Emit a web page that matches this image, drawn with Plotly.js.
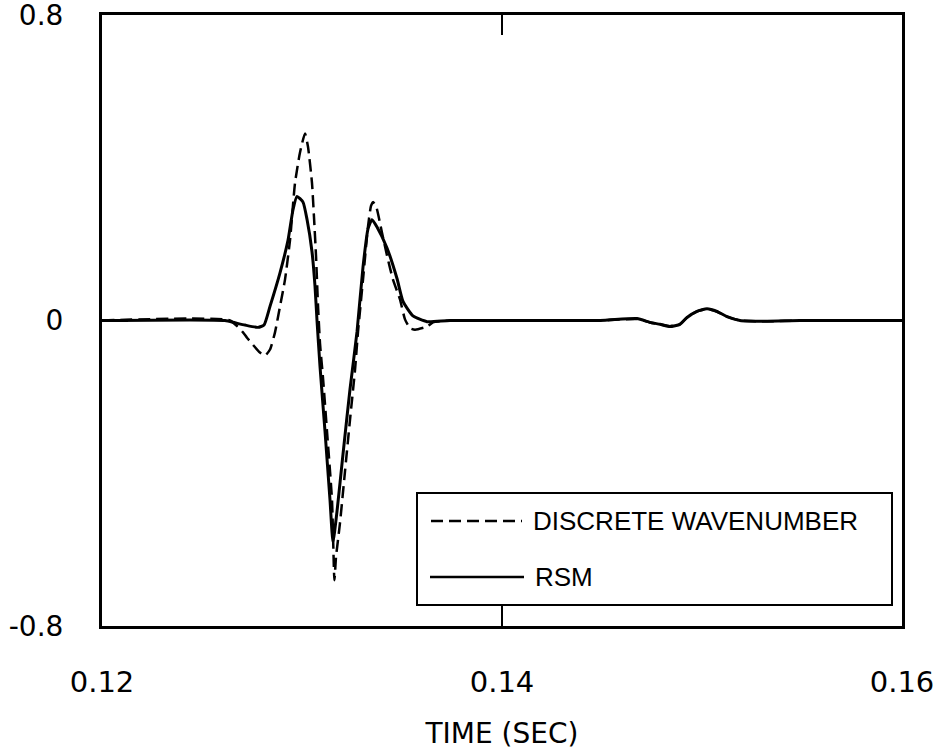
<!DOCTYPE html>
<html>
<head>
<meta charset="utf-8">
<script src="https://cdn.plot.ly/plotly-3.0.1.min.js"></script>
<style>
  html, body { margin: 0; padding: 0; background: #ffffff; }
  #chart { width: 944px; height: 754px; }
</style>
</head>
<body>
<div id="chart"></div>
<script>
// ---- Data ----
const rsmTime = [0.12, 0.12615, 0.12665, 0.12715, 0.1278, 0.1281, 0.1284, 0.1289, 0.1293, 0.12955,
  0.12975, 0.13005, 0.13025, 0.1305, 0.13065, 0.13075, 0.1309, 0.13115, 0.1314, 0.13155,
  0.13175, 0.13205, 0.1324, 0.13275, 0.13305, 0.1333, 0.1335, 0.13375, 0.13425, 0.13475,
  0.13505, 0.13555, 0.13625, 0.1374, 0.1449, 0.14675, 0.1474, 0.1479, 0.1484, 0.1489,
  0.14925, 0.14975, 0.15025, 0.15075, 0.15125, 0.1519, 0.15325, 0.1549, 0.16];
const rsmValue = [0, 0, -0.006, -0.012, -0.018, -0.012, 0.037, 0.125, 0.21, 0.29,
  0.325, 0.31, 0.265, 0.18, 0.09, 0.0, -0.12, -0.29, -0.47, -0.58,
  -0.5, -0.35, -0.18, -0.03, 0.14, 0.24, 0.264, 0.245, 0.19, 0.11,
  0.05, 0.012, -0.003, 0, 0, 0.005, -0.005, -0.01, -0.016, -0.01,
  0.008, 0.024, 0.031, 0.024, 0.01, 0, -0.002, 0, 0];

const dwTime = [0.12, 0.1264, 0.12705, 0.12725, 0.1279, 0.12815, 0.1284, 0.12865, 0.1289, 0.12915,
  0.1294, 0.12965, 0.1299, 0.13015, 0.1303, 0.1305, 0.1306, 0.1307, 0.1308, 0.1309,
  0.13105, 0.13125, 0.1315, 0.13162, 0.1317, 0.1319, 0.13215, 0.1324, 0.13265, 0.1328,
  0.13305, 0.1333, 0.13345, 0.13355, 0.1337, 0.134, 0.13425, 0.13455, 0.1349, 0.13515,
  0.1354, 0.13565, 0.13625, 0.13655, 0.1374, 0.1449, 0.14675, 0.1474, 0.1479, 0.1484,
  0.1489, 0.14925, 0.14975, 0.15025, 0.15075, 0.15125, 0.1519, 0.15325, 0.1549, 0.16];
const dwValue = [0, 0, -0.031, -0.045, -0.084, -0.092, -0.076, -0.031, 0.037, 0.107,
  0.21, 0.36, 0.44, 0.49, 0.455, 0.36, 0.27, 0.17, 0.04, -0.06,
  -0.15, -0.29, -0.47, -0.68, -0.62, -0.53, -0.395, -0.26, -0.13, -0.03,
  0.107, 0.246, 0.3, 0.31, 0.3, 0.23, 0.17, 0.107, 0.055, 0.003,
  -0.02, -0.024, -0.016, -0.005, 0, 0, 0.004, -0.005, -0.01, -0.015,
  -0.009, 0.008, 0.024, 0.03, 0.023, 0.01, 0, -0.002, 0, 0];

const seriesNames = ['DISCRETE WAVENUMBER', 'RSM'];
const xTickVals = [0.12, 0.14, 0.16];
const xTickText = ['0.12', '0.14', '0.16'];
const yTickVals = [-0.8, 0, 0.8];
const yTickText = ['-0.8', '0', '0.8'];
const xTitle = 'TIME (SEC)';

// ---- Plot ----
const FONT = 'Liberation Sans, Arial, Helvetica, sans-serif';
const AXFONT = 'DejaVu Sans, Liberation Sans, Arial, sans-serif';

const traces = [
  {
    x: dwTime, y: dwValue, name: seriesNames[0], type: 'scatter', mode: 'lines',
    line: { color: '#000000', width: 2.5, dash: '12px,6px', shape: 'spline', smoothing: 0.5 },
    showlegend: false, hoverinfo: 'skip'
  },
  {
    x: rsmTime, y: rsmValue, name: seriesNames[1], type: 'scatter', mode: 'lines',
    line: { color: '#000000', width: 3, shape: 'spline', smoothing: 0.5 },
    showlegend: false, hoverinfo: 'skip'
  }
];

// legend drawn in paper coordinates (box + sample lines + labels)
const lgBox = { x0: 0.39375, x1: 0.9875, y0: 0.0344, y1: 0.2177 };
const lgRows = [
  { y: 0.1719, x0: 0.41125, x1: 0.525, tx: 0.536, dash: '12px,6px', w: 2.5 },
  { y: 0.0802, x0: 0.41, x1: 0.5275, tx: 0.539, dash: 'solid', w: 2.5 }
];

const shapes = [
  { type: 'rect', xref: 'paper', yref: 'paper', x0: lgBox.x0, x1: lgBox.x1, y0: lgBox.y0, y1: lgBox.y1,
    line: { color: '#000000', width: 2 }, fillcolor: '#ffffff', layer: 'above' }
];
const annotations = [];
lgRows.forEach((r, i) => {
  shapes.push({ type: 'line', xref: 'paper', yref: 'paper', x0: r.x0, x1: r.x1, y0: r.y, y1: r.y,
    line: { color: '#000000', width: r.w, dash: r.dash }, layer: 'above' });
  annotations.push({ xref: 'paper', yref: 'paper', x: r.tx, y: r.y, xanchor: 'left', yanchor: 'middle',
    text: seriesNames[i], showarrow: false, font: { family: FONT, size: 26, color: '#000000' } });
});

const layout = {
  width: 944, height: 754,
  margin: { l: 102, r: 42, t: 15, b: 128 },
  paper_bgcolor: '#ffffff', plot_bgcolor: '#ffffff',
  showlegend: false,
  font: { family: AXFONT, color: '#000000', size: 29 },
  xaxis: {
    range: [0.12, 0.16], tickmode: 'array', tickvals: xTickVals, ticktext: xTickText,
    showgrid: false, zeroline: false,
    showline: true, mirror: 'ticks', linecolor: '#000000', linewidth: 3,
    ticks: 'inside', ticklen: 20, tickwidth: 2, tickcolor: '#000000',
    ticklabelstandoff: 28, ticklabeloverflow: 'allow',
    tickfont: { family: AXFONT, size: 29, color: '#000000' },
    title: { text: xTitle, font: { family: AXFONT, size: 28, color: '#000000' }, standoff: 26 }
  },
  yaxis: {
    range: [-0.8, 0.8], tickmode: 'array', tickvals: yTickVals, ticktext: yTickText,
    showgrid: false, zeroline: false,
    showline: true, mirror: 'ticks', linecolor: '#000000', linewidth: 3,
    ticks: 'inside', ticklen: 26, tickwidth: 2, tickcolor: '#000000',
    ticklabelstandoff: 30, ticklabeloverflow: 'allow',
    tickfont: { family: AXFONT, size: 28, color: '#000000' }
  },
  shapes: shapes,
  annotations: annotations
};

Plotly.newPlot('chart', traces, layout, { displayModeBar: false, staticPlot: true });
</script>
</body>
</html>
